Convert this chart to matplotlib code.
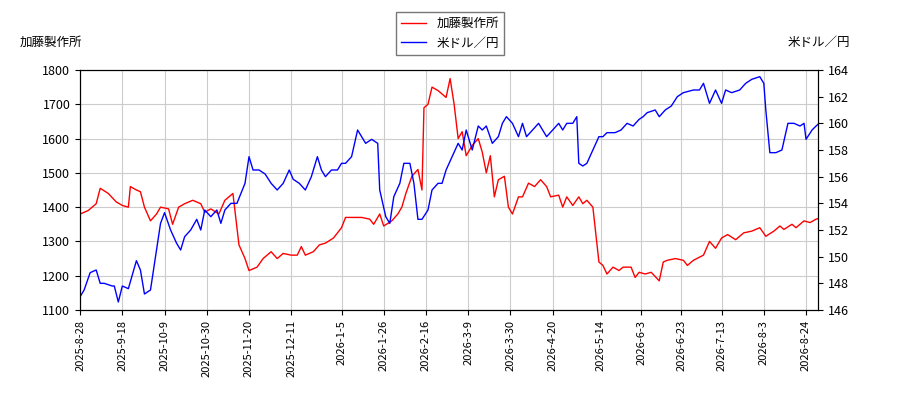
import matplotlib.pyplot as plt
import matplotlib.dates as mdates
import datetime as dt

plt.rcParams['font.family'] = ['Noto Sans CJK JP', 'DejaVu Sans']

start = dt.date(2025, 8, 28)

# 加藤製作所 (days since start, price)
kato_days = [0, 4, 8, 10, 14, 18, 21, 24, 25, 28,
             30, 32, 35, 38, 40, 44, 46, 49, 52, 56,
             60, 62, 65, 69, 72, 76, 79, 82, 84, 88,
             91, 95, 98, 101, 105, 108, 110, 112, 116, 119,
             122, 126, 130, 132, 136, 140, 144, 146, 149, 151,
             155, 158, 160, 162, 165, 168, 170, 171, 173, 175,
             178, 180, 182, 184, 186, 188, 190, 192, 195, 198,
             200, 202, 204, 206, 208, 211, 213, 215, 218, 220,
             223, 226, 229, 232, 234, 238, 240, 242, 245, 248,
             250, 252, 255, 258, 260, 262, 265, 268, 270, 274,
             276, 278, 281, 284, 288, 290, 292, 296, 300, 302,
             305, 310, 313, 316, 319, 322, 326, 330, 334, 338,
             341, 345, 348, 350, 354, 356, 360, 363, 366, 369]
kato = [1380, 1390, 1410, 1455, 1440, 1415, 1405, 1400, 1460, 1450,
        1445, 1400, 1360, 1380, 1400, 1395, 1350, 1400, 1410, 1420,
        1410, 1385, 1395, 1380, 1420, 1440, 1290, 1250, 1215, 1225,
        1250, 1270, 1250, 1265, 1260, 1260, 1285, 1260, 1270, 1290,
        1295, 1310, 1340, 1370, 1370, 1370, 1365, 1350, 1380, 1345,
        1360, 1380, 1400, 1440, 1490, 1510, 1450, 1690, 1700, 1750,
        1740, 1730, 1720, 1775, 1700, 1600, 1620, 1550, 1580, 1600,
        1560, 1500, 1550, 1430, 1480, 1490, 1400, 1380, 1430, 1430,
        1470, 1460, 1480, 1460, 1430, 1435, 1400, 1430, 1405, 1430,
        1410, 1420, 1400, 1240, 1230, 1205, 1225, 1215, 1225, 1225,
        1195, 1210, 1205, 1210, 1185, 1240, 1245, 1250, 1245, 1230,
        1245, 1260, 1300, 1280, 1310, 1320, 1305, 1325, 1330, 1340,
        1315, 1330, 1345, 1335, 1350, 1340, 1360, 1355, 1365, 1370]

# 米ドル／円
usd_days = [0, 2, 5, 8, 10, 12, 16, 17, 19, 21,
            24, 28, 30, 32, 35, 38, 40, 42, 45, 48,
            50, 52, 55, 58, 60, 62, 65, 68, 70, 72,
            75, 78, 82, 84, 86, 89, 92, 95, 98, 101,
            104, 106, 109, 112, 115, 118, 120, 122, 125, 128,
            130, 132, 135, 138, 140, 142, 145, 148, 149, 152,
            154, 156, 159, 161, 164, 166, 168, 170, 173, 175,
            178, 180, 182, 185, 188, 190, 192, 195, 198, 200,
            202, 205, 208, 210, 212, 215, 218, 220, 222, 225,
            228, 230, 232, 235, 238, 240, 242, 245, 247, 248,
            250, 252, 255, 258, 260, 262, 266, 269, 272, 275,
            278, 280, 282, 286, 288, 291, 294, 297, 300, 305,
            308, 310, 313, 316, 319, 321, 324, 328, 331, 334,
            338, 340, 341, 343, 346, 349, 352, 355, 358, 360,
            361, 364, 366, 369]
usd = [147.0, 147.5, 148.8, 149.0, 148.0, 148.0, 147.8, 147.8, 146.6, 147.8,
       147.6, 149.7, 149.0, 147.2, 147.5, 150.5, 152.5, 153.3, 152.0, 151.0,
       150.5, 151.5, 152.0, 152.8, 152.0, 153.5, 153.0, 153.5, 152.5, 153.5,
       154.0, 154.0, 155.5, 157.5, 156.5, 156.5, 156.2, 155.5, 155.0, 155.5,
       156.5, 155.8, 155.5, 155.0, 156.0, 157.5, 156.5, 156.0, 156.5, 156.5,
       157.0, 157.0, 157.5, 159.5, 159.0, 158.5, 158.8, 158.5, 155.0, 153.0,
       152.5, 154.5, 155.5, 157.0, 157.0, 155.5, 152.8, 152.8, 153.5, 155.0,
       155.5, 155.5, 156.5, 157.5, 158.5, 158.0, 159.5, 158.0, 159.8, 159.5,
       159.8, 158.5, 159.0, 160.0, 160.5, 160.0, 159.0, 160.0, 159.0, 159.5,
       160.0, 159.5, 159.0, 159.5, 160.0, 159.5, 160.0, 160.0, 160.5, 157.0,
       156.8, 157.0, 158.0, 159.0, 159.0, 159.3, 159.3, 159.5, 160.0, 159.8,
       160.3, 160.5, 160.8, 161.0, 160.5, 161.0, 161.3, 162.0, 162.3, 162.5,
       162.5, 163.0, 161.5, 162.5, 161.5, 162.5, 162.3, 162.5, 163.0, 163.3,
       163.5, 163.0, 161.0, 157.8, 157.8, 158.0, 160.0, 160.0, 159.8, 160.0,
       158.8, 159.5, 159.8, 160.2]

tick_labels = ['2025-8-28', '2025-9-18', '2025-10-9', '2025-10-30', '2025-11-20',
               '2025-12-11', '2026-1-5', '2026-1-26', '2026-2-16', '2026-3-9',
               '2026-3-30', '2026-4-20', '2026-5-14', '2026-6-3', '2026-6-23',
               '2026-7-13', '2026-8-3', '2026-8-24']

kato_x = [start + dt.timedelta(days=d) for d in kato_days]
usd_x = [start + dt.timedelta(days=d) for d in usd_days]
ticks = [dt.datetime.strptime(t, '%Y-%m-%d').date() for t in tick_labels]

fig = plt.figure(figsize=(9, 4), dpi=100)
ax = fig.add_axes([0.089, 0.225, 0.82, 0.6])
ax2 = ax.twinx()
l1, = ax.plot(kato_x, kato, color='red', lw=1)
l2, = ax2.plot(usd_x, usd, color='blue', lw=1)

ax.set_ylim(1100, 1800)
ax.set_yticks(range(1100, 1801, 100))
ax2.set_ylim(146, 164)
ax2.set_yticks(range(146, 165, 2))
ax.set_xlim(start, start + dt.timedelta(days=367))
ax.set_xticks(ticks)
ax.set_xticklabels(tick_labels)
ax.tick_params(axis='x', rotation=90, labelsize=8)
ax.tick_params(axis='y', labelsize=9)
ax2.tick_params(axis='y', labelsize=9)
ax.grid(True, color='#cccccc', lw=0.8)
ax.set_axisbelow(True)

fig.text(0.022, 0.885, '加藤製作所', fontsize=9)
fig.text(0.945, 0.885, '米ドル／円', fontsize=9, ha='right')
fig.legend([l1, l2], ['加藤製作所', '米ドル／円'], loc='upper center',
           bbox_to_anchor=(0.5, 0.985), fontsize=9, fancybox=False,
           edgecolor='#555555')

fig.savefig('out.png')
